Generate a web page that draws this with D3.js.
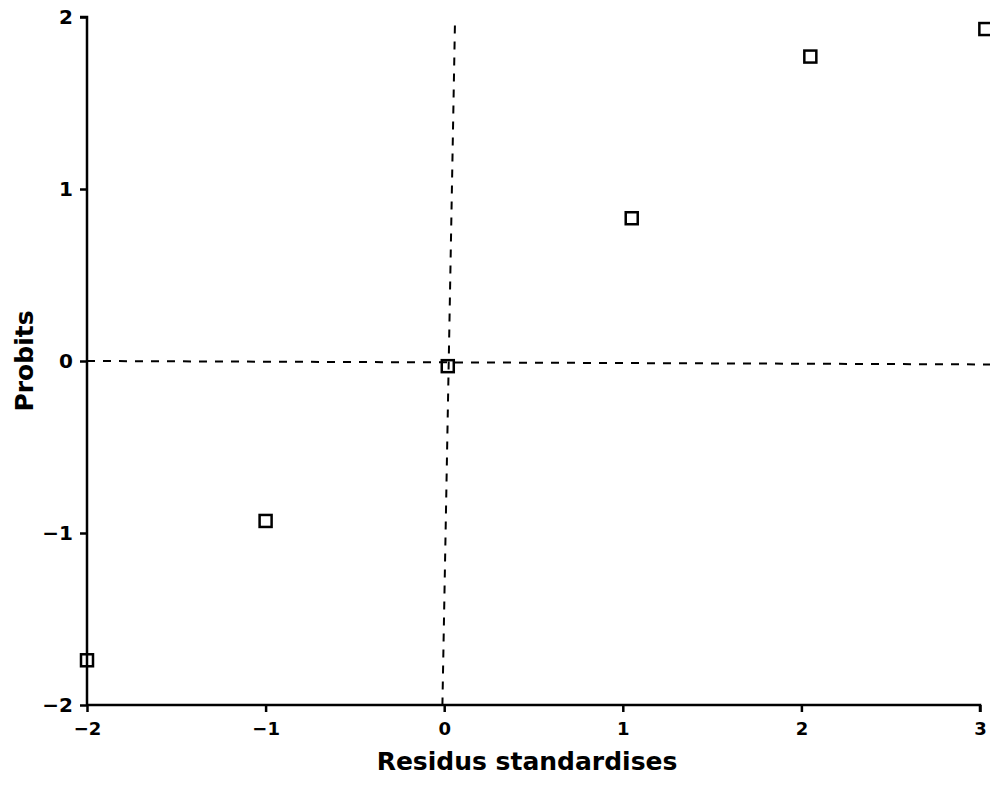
<!DOCTYPE html>
<html>
<head>
<meta charset="utf-8">
<script src="https://cdn.jsdelivr.net/npm/d3@7"></script>
<style>
  html, body { margin: 0; padding: 0; background: #fff; }
  svg { display: block; }
  text { font-family: "DejaVu Sans", sans-serif; font-weight: bold; fill: #000; }
</style>
</head>
<body>
<svg id="chart" width="990" height="789"></svg>
<script>
const residus = [-2, -1, 0.02, 1.05, 2.05, 3.03];
const probits = [-1.74, -0.93, -0.03, 0.83, 1.77, 1.93];
const xTicks = [-2, -1, 0, 1, 2, 3];
const yTicks = [-2, -1, 0, 1, 2];
const xTitle = "Residus standardises";
const yTitle = "Probits";

const svg = d3.select("#chart");
const x = d3.scaleLinear().domain([-2, 3]).range([87, 980]);
const y = d3.scaleLinear().domain([-2, 2]).range([705, 17]);

// reference lines
svg.append("line")
  .attr("x1", x(-2)).attr("x2", 990)
  .attr("y1", y(0)).attr("y2", y(-0.02))
  .attr("stroke", "#000").attr("stroke-width", 2)
  .attr("stroke-dasharray", "8,8");
svg.append("line")
  .attr("x1", x(0.06)).attr("x2", x(-0.01))
  .attr("y1", y(1.95)).attr("y2", y(-2))
  .attr("stroke", "#000").attr("stroke-width", 2)
  .attr("stroke-dasharray", "8,8");

// axes
const fmt = d => d < 0 ? "\u2212" + Math.abs(d) : d;
const xAxis = d3.axisBottom(x).tickValues(xTicks).tickSize(7).tickPadding(10).tickFormat(fmt);
const yAxis = d3.axisLeft(y).tickValues(yTicks).tickSize(7).tickPadding(7).tickFormat(fmt);

const gx = svg.append("g").attr("transform", `translate(0,${y(-2)})`).call(xAxis);
const gy = svg.append("g").attr("transform", `translate(${x(-2)},0)`).call(yAxis);
[gx, gy].forEach(g => {
  g.select(".domain").attr("stroke", "#000").attr("stroke-width", 2.5)
    .attr("d", g === gx ? `M${x(-2)},0H${x(3)}V7` : `M-7,${y(2)}H0V${y(-2)}`);
  g.selectAll(".tick line").attr("stroke", "#000").attr("stroke-width", 2.5);
  g.selectAll(".tick text").style("font-family", "'DejaVu Sans', sans-serif")
    .style("font-weight", "bold").style("font-size", g === gx ? "18px" : "20px").attr("fill", "#000");
});

// titles
svg.append("text")
  .attr("x", 527).attr("y", 770)
  .attr("text-anchor", "middle")
  .style("font-size", "25px")
  .text(xTitle);
svg.append("text")
  .attr("transform", `translate(33,${361}) rotate(-90)`)
  .attr("text-anchor", "middle")
  .style("font-size", "25px")
  .text(yTitle);

// points
svg.append("g").selectAll("rect")
  .data(residus.map((r, i) => [r, probits[i]]))
  .join("rect")
  .attr("x", d => x(d[0]) - 6)
  .attr("y", d => y(d[1]) - 6)
  .attr("width", 12).attr("height", 12)
  .attr("fill", "none").attr("stroke", "#000").attr("stroke-width", 2.5);
</script>
</body>
</html>
